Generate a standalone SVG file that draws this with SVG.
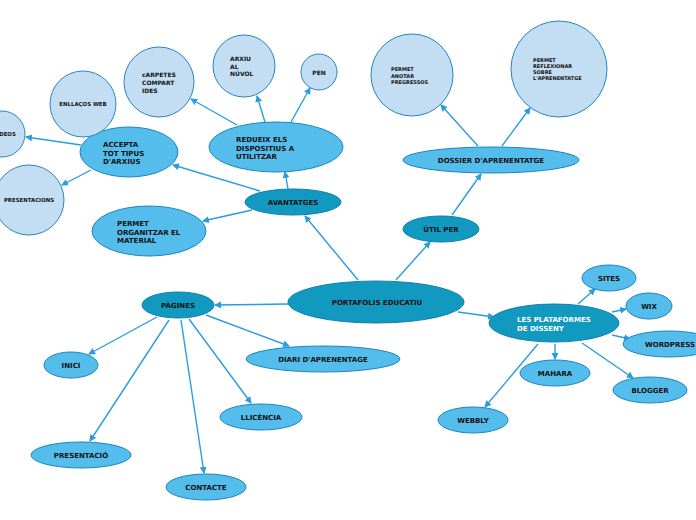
<svg xmlns="http://www.w3.org/2000/svg" width="696" height="520" viewBox="0 0 696 520">
<style>
.d{fill:#1299bf;stroke:#0f7fb3;stroke-width:1}
.m{fill:#55bdec;stroke:#1a86c0;stroke-width:1}
.l{fill:#c3def2;stroke:#2685c2;stroke-width:1}
text{font-family:"DejaVu Sans",Verdana,sans-serif;font-weight:bold;fill:#111}
.c{text-anchor:middle}
.t7{font-size:7px}
.t6{font-size:6px}
.t5{font-size:5px}
.t54{font-size:5.4px}
.w{fill:#fff}
.e{fill:none;stroke:#2a9de0;stroke-width:1.4;marker-end:url(#a)}
</style>
<defs>
<marker id="a" markerWidth="8" markerHeight="8" refX="6" refY="3.5" orient="auto" markerUnits="userSpaceOnUse">
<path d="M0,0 L7,3.5 L0,7 Z" fill="#2a9de0"/>
</marker>
</defs>
<g id="connectors">
<line class="e" x1="358" y1="280" x2="305" y2="216"/>
<line class="e" x1="396" y1="280" x2="430" y2="242"/>
<line class="e" x1="452" y1="215" x2="481" y2="174"/>
<line class="e" x1="478" y1="146" x2="441" y2="105"/>
<line class="e" x1="502" y1="146" x2="530" y2="108"/>
<line class="e" x1="288" y1="189" x2="285" y2="172"/>
<line class="e" x1="260" y1="191" x2="173" y2="165"/>
<line class="e" x1="252" y1="210" x2="203" y2="221"/>
<line class="e" x1="237" y1="125" x2="191" y2="99"/>
<line class="e" x1="265" y1="122" x2="257" y2="96"/>
<line class="e" x1="291" y1="122" x2="310" y2="88"/>
<line class="e" x1="81" y1="145" x2="26" y2="137"/>
<line class="e" x1="91" y1="170" x2="62" y2="185"/>
<line class="e" x1="288" y1="304" x2="215" y2="305"/>
<line class="e" x1="157" y1="317" x2="89" y2="354"/>
<line class="e" x1="169" y1="320" x2="90" y2="441"/>
<line class="e" x1="181" y1="320" x2="204" y2="473"/>
<line class="e" x1="189" y1="319" x2="251" y2="403"/>
<line class="e" x1="206" y1="315" x2="289" y2="346"/>
<line class="e" x1="458" y1="312" x2="494" y2="317"/>
<line class="e" x1="578" y1="304" x2="595" y2="289"/>
<line class="e" x1="612" y1="312" x2="626" y2="309"/>
<line class="e" x1="612" y1="335" x2="630" y2="339"/>
<line class="e" x1="555" y1="344" x2="555" y2="359"/>
<line class="e" x1="582" y1="343" x2="633" y2="378"/>
<line class="e" x1="538" y1="344" x2="485" y2="407"/>
</g>
<g id="n-portafolis"><ellipse class="d" cx="376" cy="302" rx="88" ry="21"/><text class="c t7" x="377" y="305">PORTAFOLIS EDUCATIU</text></g>
<g id="n-avantatges"><ellipse class="d" cx="293" cy="202" rx="48" ry="13"/><text class="c t7" x="293" y="205">AVANTATGES</text></g>
<g id="n-util"><ellipse class="d" cx="441" cy="229" rx="38" ry="13"/><text class="c t7" x="441" y="232">ÚTIL PER</text></g>
<g id="n-dossier"><ellipse class="m" cx="491" cy="160" rx="88" ry="13"/><text class="c t7" x="491" y="163">DOSSIER D'APRENENTATGE</text></g>
<g id="n-anotar"><circle class="l" cx="412" cy="75" r="41"/><text class="t5" x="391" y="71">PERMET</text><text class="t5" x="391" y="77.5">ANOTAR</text><text class="t5" x="391" y="84">PREGRESSOS</text></g>
<g id="n-reflexionar"><circle class="l" cx="559" cy="69" r="48"/><text class="t5" x="533" y="62">PERMET</text><text class="t5" x="533" y="68">REFLEXIONAR</text><text class="t5" x="533" y="74">SOBRE</text><text class="t5" x="533" y="80">L'APRENENTATGE</text></g>
<g id="n-redueix"><ellipse class="m" cx="276" cy="147" rx="67" ry="25"/><text class="t7" x="236" y="142">REDUEIX ELS</text><text class="t7" x="236" y="150.5">DISPOSITIUS A</text><text class="t7" x="236" y="159">UTILITZAR</text></g>
<g id="n-accepta"><ellipse class="m" cx="129" cy="152" rx="49" ry="25"/><text class="t7" x="103" y="147">ACCEPTA</text><text class="t7" x="103" y="155.5">TOT TIPUS</text><text class="t7" x="103" y="164">D'ARXIUS</text></g>
<g id="n-organitzar"><ellipse class="m" cx="149" cy="231" rx="57" ry="25"/><text class="t7" x="117" y="226">PERMET</text><text class="t7" x="117" y="234.5">ORGANITZAR EL</text><text class="t7" x="117" y="243">MATERIAL</text></g>
<g id="n-carpetes"><circle class="l" cx="159" cy="82" r="35"/><text class="t6" x="142" y="77">cARPETES</text><text class="t6" x="142" y="85">COMPART</text><text class="t6" x="142" y="93">IDES</text></g>
<g id="n-arxiu"><circle class="l" cx="244" cy="66" r="31"/><text class="t6" x="230" y="61">ARXIU</text><text class="t6" x="230" y="68.5">AL</text><text class="t6" x="230" y="76">NÚVOL</text></g>
<g id="n-pen"><circle class="l" cx="319" cy="72" r="18"/><text class="c t6" x="319" y="75">PEN</text></g>
<g id="n-enllacos"><circle class="l" cx="83" cy="104" r="33"/><text class="c t54" x="83" y="106">ENLLAÇOS WEB</text></g>
<g id="n-videos"><circle class="l" cx="2" cy="134" r="23"/><text class="t54" x="-7" y="136">VIDEOS</text></g>
<g id="n-presentacions"><circle class="l" cx="29" cy="200" r="35"/><text class="c t54" x="29" y="202">PRESENTACIONS</text></g>
<g id="n-pagines"><ellipse class="d" cx="178" cy="305" rx="36" ry="13"/><text class="c t7" x="178" y="308">PÀGINES</text></g>
<g id="n-inici"><ellipse class="m" cx="71" cy="365" rx="27" ry="13"/><text class="c t7" x="71" y="368">INICI</text></g>
<g id="n-presentacio"><ellipse class="m" cx="81" cy="455" rx="50" ry="13"/><text class="c t7" x="81" y="458">PRESENTACIÓ</text></g>
<g id="n-contacte"><ellipse class="m" cx="206" cy="487" rx="40" ry="13"/><text class="c t7" x="206" y="490">CONTACTE</text></g>
<g id="n-llicencia"><ellipse class="m" cx="261" cy="417" rx="41" ry="13"/><text class="c t7" x="261" y="420">LLICÈNCIA</text></g>
<g id="n-diari"><ellipse class="m" cx="323" cy="359" rx="77" ry="13"/><text class="c t7" x="323" y="362">DIARI D'APRENENTAGE</text></g>
<g id="n-plataformes"><ellipse class="d" cx="554" cy="323" rx="65" ry="19"/><text class="t7 w" x="517" y="322">LES PLATAFORMES</text><text class="t7 w" x="517" y="331">DE DISSENY</text></g>
<g id="n-sites"><ellipse class="m" cx="609" cy="278" rx="27" ry="13"/><text class="c t7" x="609" y="281">SITES</text></g>
<g id="n-wix"><ellipse class="m" cx="649" cy="306" rx="23" ry="13"/><text class="c t7" x="649" y="309">WIX</text></g>
<g id="n-wordpress"><ellipse class="m" cx="669" cy="344" rx="46" ry="13"/><text class="t7" x="645" y="347">WORDPRESS</text></g>
<g id="n-mahara"><ellipse class="m" cx="555" cy="373" rx="35" ry="13"/><text class="c t7" x="555" y="376">MAHARA</text></g>
<g id="n-blogger"><ellipse class="m" cx="650" cy="390" rx="37" ry="13"/><text class="c t7" x="650" y="393">BLOGGER</text></g>
<g id="n-webbly"><ellipse class="m" cx="473" cy="420" rx="35" ry="13"/><text class="c t7" x="473" y="423">WEBBLY</text></g>
</svg>
